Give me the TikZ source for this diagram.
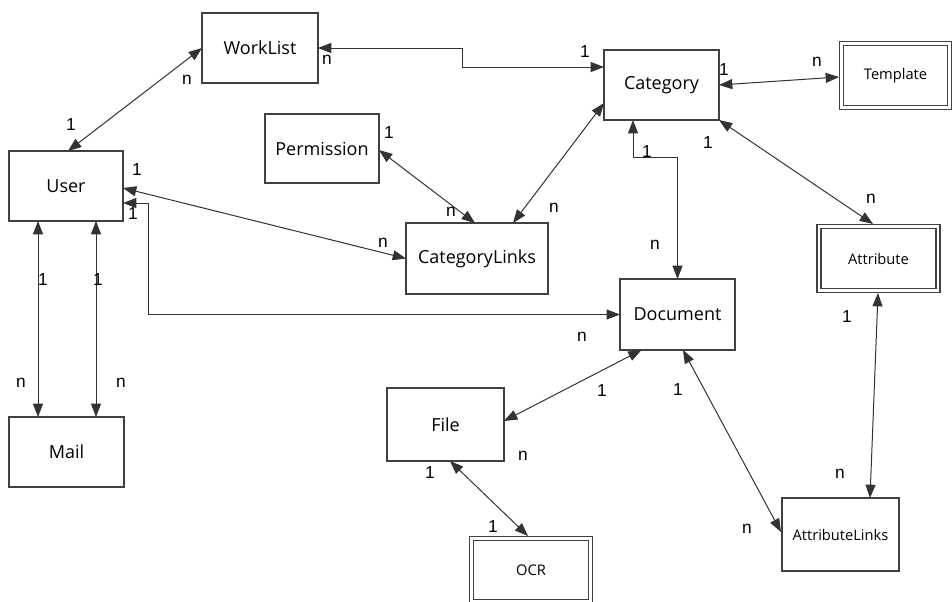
\documentclass[tikz,border=0pt]{standalone}
\usepackage{fontspec}
\setmainfont{Open Sans}
\newfontfamily\cardfont{Liberation Sans}
\usetikzlibrary{arrows.meta,calc}
\begin{document}
\begin{tikzpicture}[x=0.75pt,y=-0.75pt,
  sz/.style 2 args={minimum width=#1*0.75pt, minimum height=#2*0.75pt},
  ent/.style={draw=black!75, line width=1.2pt, fill=white, inner sep=0pt, outer sep=0pt,
              font=\fontsize{13.5}{16}\selectfont},
  weak/.style={draw=black!75, line width=0.9pt, double=white, double distance=2.2pt,
               inner sep=0pt, outer sep=0pt, font=\fontsize{11}{13}\selectfont},
  rel/.style={draw=black!80, line width=0.75pt,
              {Triangle[length=10pt,width=7.5pt]}-{Triangle[length=10pt,width=7.5pt]}},
  card/.style={font=\cardfont\fontsize{13}{15}\selectfont, inner sep=0pt}
]
\fill[white] (0,0) rectangle (952,601);
\useasboundingbox (0,0) rectangle (952,601);

% entities
\node[ent, sz={116}{70}] (worklist)   at (260,48)    {WorkList};
\node[ent, sz={114}{70}] (user)       at (66,186)    {User};
\node[ent, sz={114}{69}] (permission) at (322,148.5) {Permission};
\node[ent, sz={115}{70}] (category)   at (661.5,85)  {Category};
\node[ent, sz={142}{71}] (catlinks)   at (477,258.5) {CategoryLinks};
\node[ent, sz={115}{71}] (document)   at (677.5,314.5) {Document};
\node[ent, sz={117}{73}] (file)       at (445.5,424.5) {File};
\node[ent, sz={117}{73}] (attrlinks)  at (840.5,534.5) {\fontsize{11}{13}\selectfont AttributeLinks};
\node[ent, sz={115}{70}] (mail)       at (66.5,452)  {Mail};

% weak entities (double border)
\node[weak, sz={108}{64}]   (template)  at (895.5,75.5)  {Template};
\node[weak, sz={119}{64}]   (attribute) at (878.5,258.5) {Attribute};
\node[weak, sz={119.5}{63}] (ocr)       at (531,570)     {OCR};

% relationships
\draw[rel] ($(user.north)+(2,0)$) -- (worklist.west);
\draw[rel] (worklist.east) -- ++(144,0) |- ($(category.west)+(0,-18)$);
\draw[rel] (category.east) -- ($(template.west)+(-2.5,1.5)$);
\draw[rel] (category.south east) -- ($(attribute.north)+(-5.5,-2.5)$);
\draw[rel] ($(category.south)+(-28.5,0)$) -- ++(0,37) -| (document.north);
\draw[rel] ($(category.west)+(0,18)$) -- ($(catlinks.north)+(36,0)$);
\draw[rel] ($(permission.east)+(0,1.5)$) -- ($(catlinks.north)+(-2,0)$);
\draw[rel] ($(user.east)+(0,2)$) -- (catlinks.west);
\draw[rel] ($(user.east)+(0,17)$) -- ++(25,0) |- (document.west);
\draw[rel] ($(user.south)+(-28,0)$) -- ($(mail.north)+(-28.5,0)$);
\draw[rel] ($(user.south)+(30,0)$) -- ($(mail.north)+(29.5,0)$);
\draw[rel] ($(document.south)+(-36,0)$) -- ($(file.east)+(0,-3.5)$);
\draw[rel] ($(document.south)+(5.5,0)$) -- ($(attrlinks.west)+(-1,-2.5)$);
\draw[rel] ($(attribute.south)+(-0.5,2.5)$) -- ($(attrlinks.north)+(29.5,0)$);
\draw[rel] ($(file.south)+(4.5,0)$) -- ($(ocr.north)+(-3,-2.5)$);

% cardinalities
\node[card] (c1)  at (71,125)  {1};
\node[card] (c2)  at (187,80)  {n};
\node[card] (c3)  at (327,60)  {n};
\node[card] (c4)  at (585,52)  {1};
\node[card] (c5)  at (724,70)  {1};
\node[card] (c6)  at (817,62)  {n};
\node[card] (c7)  at (708,143) {1};
\node[card] (c8)  at (871,199) {n};
\node[card] (c9)  at (647,152) {1};
\node[card] (c10) at (655,245) {n};
\node[card] (c11) at (554,208) {n};
\node[card] (c12) at (389,133) {1};
\node[card] (c13) at (451,212) {n};
\node[card] (c14) at (137,170) {1};
\node[card] (c15) at (383,243) {n};
\node[card] (c16) at (133,214) {1};
\node[card] (c17) at (582,337) {n};
\node[card] (c18) at (43,280)  {1};
\node[card] (c19) at (21,383)  {n};
\node[card] (c20) at (98,280)  {1};
\node[card] (c21) at (121,383) {n};
\node[card] (c22) at (602,391) {1};
\node[card] (c23) at (523,456) {n};
\node[card] (c24) at (678,390) {1};
\node[card] (c25) at (747,529) {n};
\node[card] (c26) at (847,317) {1};
\node[card] (c27) at (840,474) {n};
\node[card] (c28) at (430,473) {1};
\node[card] (c29) at (493,527) {1};
\end{tikzpicture}
\end{document}
